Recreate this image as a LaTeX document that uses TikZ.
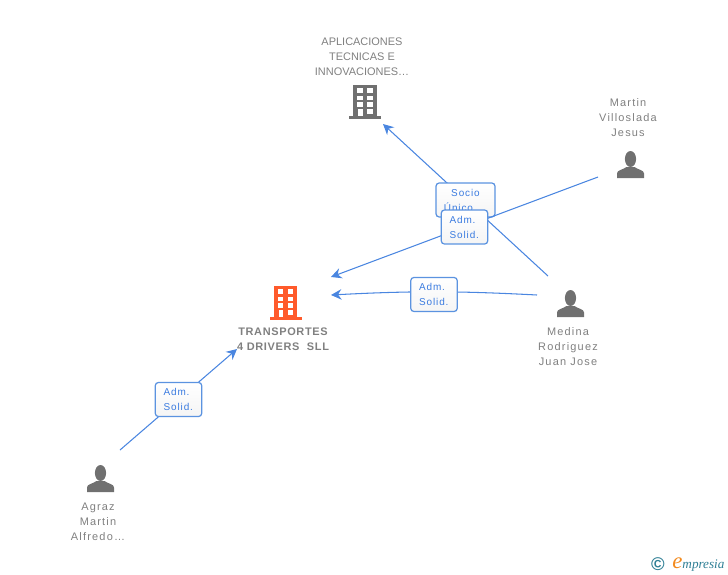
\documentclass[tikz,border=0pt]{standalone}
\usepackage{fontspec}
\usetikzlibrary{arrows.meta}
\setmainfont{Liberation Sans}
\newfontfamily\widefont[LetterSpace=11]{Liberation Sans}
\newfontfamily\boldfont[LetterSpace=6,BoldFont={Liberation Sans Bold}]{Liberation Sans}
\newfontfamily\admfont[LetterSpace=9]{Liberation Sans}
\newfontfamily\logofont{Liberation Serif}
\definecolor{linkblue}{HTML}{4A86E0}
\definecolor{boxblue}{HTML}{5B93E0}
\definecolor{textblue}{HTML}{3A7BE0}
\definecolor{textgrey}{HTML}{808080}
\definecolor{icongrey}{HTML}{707070}
\definecolor{mainorange}{HTML}{FF5A2B}
\definecolor{logoteal}{HTML}{2F7F95}
\definecolor{logoorange}{HTML}{F28A1E}
\tikzset{
  pics/building/.style={code={
    \fill[#1] (-11.7,0) rectangle (11.7,31);
    \fill[#1] (-16,31) rectangle (16,34);
    \foreach \ytop/\ybot in {3.3/7.7,10.7/15,17.3/21.7} {
      \fill[white] (-7.7,\ytop) rectangle (-2.3,\ybot);
      \fill[white] (2.3,\ytop) rectangle (7.7,\ybot);
    }
    \fill[white] (-6.7,24) rectangle (-2.3,31);
    \fill[white] (2.3,24) rectangle (7.7,28.5);
  }},
  pics/person/.style={code={
    \fill[icongrey] (0,8) ellipse (5.6 and 8);
    \fill[icongrey] (-13.5,27) -- (-13.5,22.5) .. controls (-13.5,19) and (-8,19) .. (-4,16) -- (4,16) .. controls (8,19) and (13.5,19) .. (13.5,22.5) -- (13.5,27) -- cycle;
  }},
  caption/.style = {inner sep=0pt,align=center,text=textgrey,font=\fontsize{6.24pt}{8.5pt}\selectfont},
  link/.style = {draw=linkblue,line width=0.6pt,-{Stealth[length=6pt,width=6pt,inset=2pt]}},
  role/.style = {rounded corners=1.7pt,draw=boxblue,line width=0.7pt,top color=white,bottom color=black!4,
    inner sep=0pt,minimum height=19.3pt,text=textblue,font=\admfont\fontsize{5.67pt}{8.5pt}\selectfont},
  adm/.style = {role,minimum width=26.4pt,text width=17pt,align=left},
  socio/.style = {role,minimum width=33.5pt,align=center}
}
\begin{document}
\begin{tikzpicture}[x=0.02cm,y=-0.02cm]
\useasboundingbox (0,0) rectangle (728,575);

% free ends of the links
\coordinate (agrazEnd) at (120,450);
\coordinate (mainIn) at (237,349);
\coordinate (medinaEnd) at (537,295);
\coordinate (mainRight) at (331,295);
\coordinate (martinEnd) at (598,177);
\coordinate (mainTop) at (331,277);
\coordinate (medinaTop) at (548,276);
\coordinate (aplicIn) at (383,124);

\pic at (285.5,286) {building=mainorange};
\pic at (365,85) {building=icongrey};
\pic at (100.5,465) {person};
\pic at (630.5,151) {person};
\pic at (570.5,290) {person};

\node[caption] (aplic) at (362,56.5) {APLICACIONES\\TECNICAS E\\INNOVACIONES\ldots};
\node[caption,font=\boldfont\bfseries\fontsize{6.24pt}{8.5pt}\selectfont] (main) at (283,339) {TRANSPORTES\\4 DRIVERS\ \ SLL};
\node[caption,font=\widefont\fontsize{6.24pt}{8.5pt}\selectfont] (martin) at (628,117.5) {Martin\\Villoslada\\Jesus};
\node[caption,font=\widefont\fontsize{6.24pt}{8.5pt}\selectfont] (medina) at (568,346.5) {Medina\\Rodriguez\\Juan Jose};
\node[caption,font=\widefont\fontsize{6.24pt}{8.5pt}\selectfont] (agraz) at (98,521.5) {Agraz\\Martin\\Alfredo\ldots};

\draw[link] (agrazEnd) -- node[adm] (admAgraz) {Adm.\\Solid.} (mainIn);
\draw[link] (medinaEnd) to[bend right=3] node[adm,yshift=-1.5pt] (admMedina) {Adm.\\Solid.} (mainRight);
\draw[link] (medinaTop) -- node[socio] (socioMedina) {Socio\\Único\hspace*{8pt}} (aplicIn);
\draw[link] (martinEnd) -- node[adm] (admMartin) {Adm.\\Solid.} (mainTop);

\node[text=logoteal,inner sep=0pt,font=\bfseries\fontsize{10.5pt}{10pt}\selectfont] (logoC) at (658,564.5) {©};
\node[anchor=west,inner sep=0pt,text=logoteal,font=\logofont\itshape\fontsize{7.5pt}{8pt}\selectfont] (logo) at (672,565) {\textcolor{logoorange}{\fontsize{13pt}{8pt}\selectfont e}mpresia};
\end{tikzpicture}
\end{document}
